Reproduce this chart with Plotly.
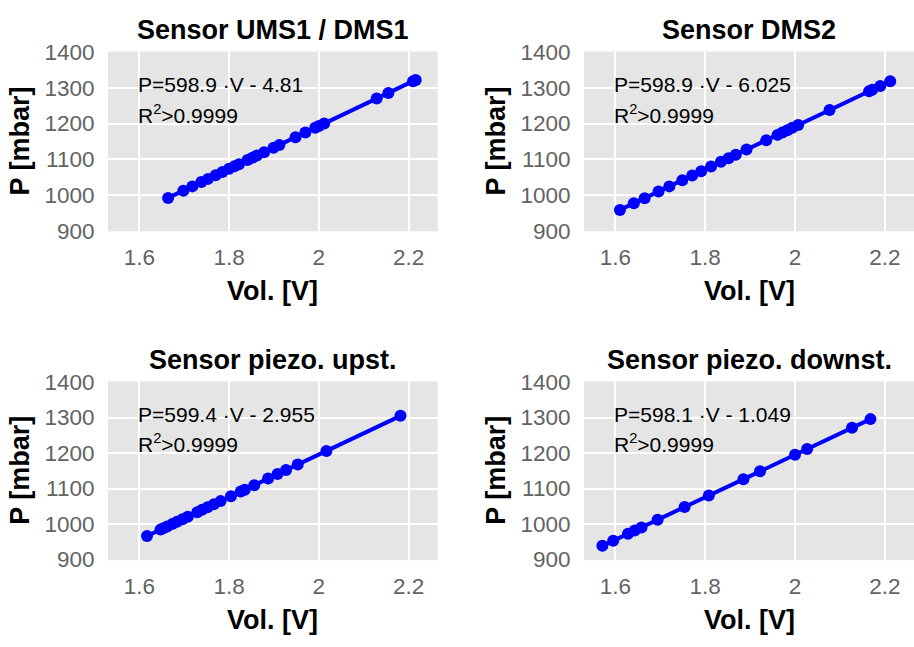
import plotly.graph_objects as go

# ---------------- data ----------------
titles = ["Sensor UMS1 / DMS1", "Sensor DMS2", "Sensor piezo. upst.", "Sensor piezo. downst."]
fit_labels = ["P=598.9 \u00b7V - 4.81", "P=598.9 \u00b7V - 6.025",
              "P=599.4 \u00b7V - 2.955", "P=598.1 \u00b7V - 1.049"]
r2_label = "R<sup>2</sup>&gt;0.9999"

v_ums1 = [1.664, 1.698, 1.718, 1.738, 1.753, 1.770, 1.785, 1.800, 1.812, 1.822, 1.841, 1.852,
          1.862, 1.878, 1.899, 1.912, 1.948, 1.970, 1.992, 2.000, 2.012, 2.129, 2.155, 2.210, 2.216]
p_ums1 = [991.8, 1012.1, 1024.1, 1036.1, 1045.1, 1055.2, 1064.2, 1073.2, 1080.4, 1086.4, 1097.8, 1104.3,
          1110.3, 1119.9, 1132.5, 1140.3, 1161.8, 1175.0, 1188.2, 1193.0, 1200.2, 1270.3, 1285.8, 1318.8, 1322.4]

v_dms2 = [1.610, 1.641, 1.665, 1.696, 1.720, 1.749, 1.771, 1.791, 1.813, 1.835, 1.852, 1.868,
          1.892, 1.936, 1.961, 1.972, 1.983, 1.994, 2.007, 2.077, 2.165, 2.172, 2.190, 2.212]
p_dms2 = [958.2, 976.8, 991.1, 1009.7, 1024.1, 1041.5, 1054.6, 1066.6, 1079.8, 1093.0, 1103.1, 1112.7,
          1127.1, 1153.4, 1168.4, 1175.0, 1181.6, 1188.2, 1196.0, 1237.9, 1290.6, 1294.8, 1305.6, 1318.7]

v_up = [1.617, 1.647, 1.654, 1.662, 1.673, 1.684, 1.696, 1.708, 1.729, 1.740, 1.752, 1.766,
        1.781, 1.804, 1.826, 1.835, 1.856, 1.887, 1.908, 1.927, 1.953, 2.017, 2.182]
p_up = [966.3, 984.3, 988.5, 993.2, 999.8, 1006.4, 1013.6, 1020.8, 1033.4, 1040.0, 1047.2, 1055.6,
        1064.6, 1078.4, 1091.5, 1096.9, 1109.5, 1128.1, 1140.7, 1152.1, 1167.7, 1206.0, 1304.9]

v_down = [1.571, 1.595, 1.628, 1.643, 1.658, 1.694, 1.754, 1.808, 1.885, 1.922, 2.000, 2.027, 2.127, 2.168]
p_down = [938.6, 952.9, 972.7, 981.6, 990.6, 1012.1, 1048.0, 1080.3, 1126.4, 1148.5, 1195.2, 1211.3, 1271.1, 1295.6]

x_ticks = [1.6, 1.8, 2.0, 2.2]
x_ticktext = ["1.6", "1.8", "2", "2.2"]
y_ticks = [900, 1000, 1100, 1200, 1300, 1400]
y_ticktext = ["900", "1000", "1100", "1200", "1300", "1400"]

series = [(v_ums1, p_ums1), (v_dms2, p_dms2), (v_up, p_up), (v_down, p_down)]

# ---------------- layout ----------------
W, H = 914, 647
FONT = "Liberation Sans, Arial, Helvetica, sans-serif"
BLUE = "#0000FF"
BG = "#E5E5E5"
TICKC = "#636363"

xdoms = [(108 / W, 437.7 / W), (584 / W, 1.0)]
ydoms = [(1 - 228.5 / H, 1 - 42 / H), (1 - 569.5 / H, 1 - 384 / H)]

fig = go.Figure()
annotations = []
for i, (vx, py) in enumerate(series):
    r, c = divmod(i, 2)
    n = i + 1
    xa = "x" if n == 1 else f"x{n}"
    ya = "y" if n == 1 else f"y{n}"
    fig.add_trace(go.Scatter(
        x=vx, y=py, mode="lines+markers", xaxis=xa, yaxis=ya,
        line=dict(color=BLUE, width=4), marker=dict(color=BLUE, size=12),
        showlegend=False, hoverinfo="skip"))
    axk = "" if n == 1 else str(n)
    common = dict(showgrid=True, gridcolor="white", gridwidth=2, zeroline=False,
                  showline=False, ticks="outside", tickcolor="rgba(0,0,0,0)",
                  tickfont=dict(family=FONT, size=22.5, color=TICKC))
    fig.layout["xaxis" + axk] = dict(domain=xdoms[c], anchor=ya, range=[1.53, 2.265],
                                     tickvals=x_ticks, ticktext=x_ticktext, ticklen=6, **common)
    fig.layout["yaxis" + axk] = dict(domain=ydoms[r], anchor=xa, range=[898, 1402],
                                     tickvals=y_ticks, ticktext=y_ticktext, ticklen=8, **common)
    annotations.append(dict(x=1.6, y=1310, xref=xa, yref=ya, text=fit_labels[i], showarrow=False,
                            xanchor="left", yanchor="middle", xshift=-3,
                            font=dict(family=FONT, size=21, color="black")))
    annotations.append(dict(x=1.6, y=1228, xref=xa, yref=ya, text=r2_label, showarrow=False,
                            xanchor="left", yanchor="middle", xshift=-3,
                            font=dict(family=FONT, size=21, color="black")))
    xc = (xdoms[c][0] + xdoms[c][1]) / 2
    ytop = ydoms[r][1]
    annotations.append(dict(x=xc, y=ytop + 22 / H, xref="paper", yref="paper", text=f"<b>{titles[i]}</b>",
                            showarrow=False, xanchor="center", yanchor="middle",
                            font=dict(family=FONT, size=27, color="black")))
    annotations.append(dict(x=xc, y=ydoms[r][0] - 62 / H, xref="paper", yref="paper", text="<b>Vol. [V]</b>",
                            showarrow=False, xanchor="center", yanchor="middle",
                            font=dict(family=FONT, size=27, color="black")))
    yc = (ydoms[r][0] + ydoms[r][1]) / 2
    annotations.append(dict(x=xdoms[c][0] - 88 / W, y=yc, xref="paper", yref="paper", text="<b>P [mbar]</b>",
                            showarrow=False, xanchor="center", yanchor="middle", textangle=-90,
                            font=dict(family=FONT, size=27, color="black")))

fig.update_layout(width=W, height=H, margin=dict(l=0, r=0, t=0, b=0),
                  paper_bgcolor="white", plot_bgcolor=BG, annotations=annotations,
                  font=dict(family=FONT))
fig.write_html("out.html")
